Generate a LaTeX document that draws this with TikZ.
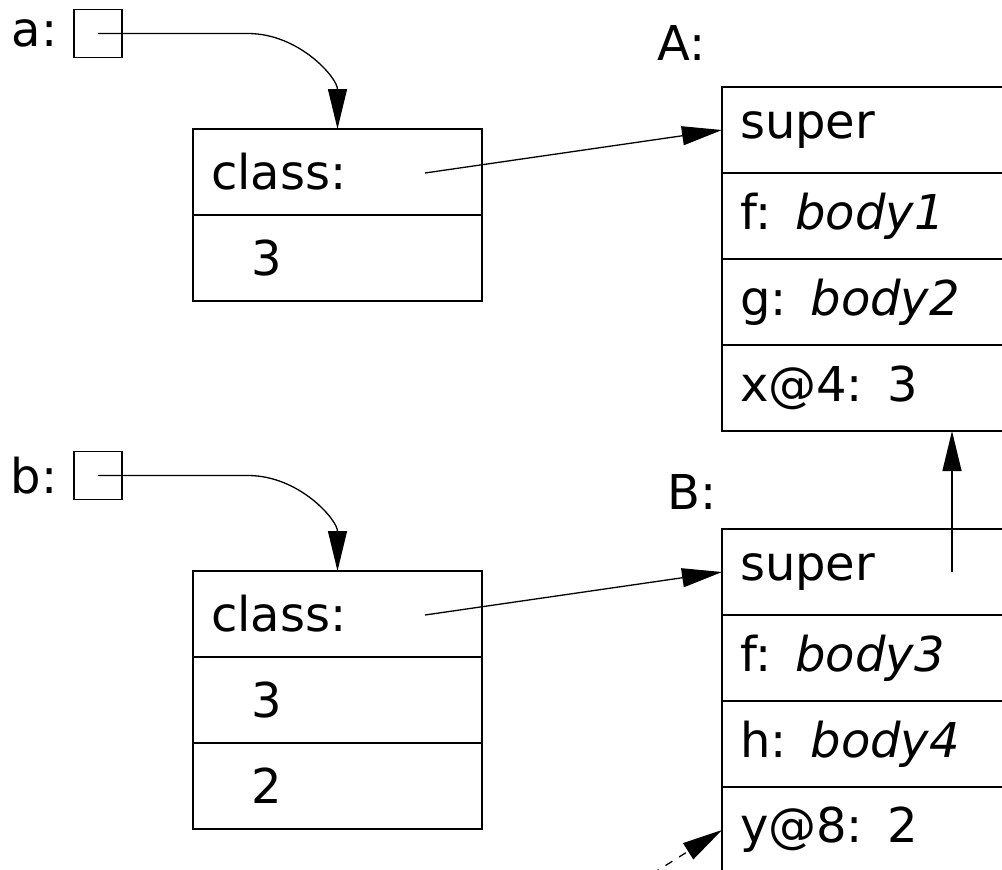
\documentclass[tikz,border=0pt]{standalone}
\usepackage{fontspec}
\setmainfont{DejaVu Sans}
\usepackage{tikz}
\usetikzlibrary{positioning,arrows.meta}

\begin{document}
\begin{tikzpicture}[x=0.5pt, y=-0.5pt, line width=0.65pt,
    every node/.style={font=\fontsize{24}{28}\selectfont},
    >={Triangle[length=20pt, width=9.5pt]},
    cell/.style={draw, anchor=north west, outer sep=0pt, inner xsep=9pt, inner ysep=0pt,
                 minimum height=43pt, align=left},
    objcell/.style={cell, text width=126.5pt},
    clscell/.style={cell, text width=132pt},
    refbox/.style={draw, outer sep=0pt, minimum size=24pt, inner sep=0pt},
    lbl/.style={inner sep=0pt}]
   % Frame of the picture (crops the class boxes on the right)
   \useasboundingbox (0,0) rectangle (1002,869);

    % Variables
    \node[refbox] (pa) at (98,33.5) {};
    \node[lbl, left=8pt of pa] (la) {a:};
    \node[refbox] (pb) at (98,475.5) {};
    \node[lbl, left=8pt of pb] (lb) {b:};

    % Object of a
    \node[objcell] (oa1) at (193,129) {class:};
    \node[objcell, below=0pt of oa1] (oa2) {\hspace*{20pt}3};

    % Object of b
    \node[objcell] (ob1) at (193,571) {class:};
    \node[objcell, below=0pt of ob1] (ob2) {\hspace*{20pt}3};
    \node[objcell, below=0pt of ob2] (ob3) {\hspace*{20pt}2};

    % Class A
    \node[clscell] (A1) at (722,87) {super};
    \node[clscell, below=0pt of A1] (A2) {f: \textit{body1}};
    \node[clscell, below=0pt of A2] (A3) {g: \textit{body2}};
    \node[clscell, below=0pt of A3] (A4) {x@4: 3};
    \node[lbl, above left=13pt and 8pt of A1.north west] (lA) {A:};

    % Class B
    \node[clscell] (B1) at (722,529) {super};
    \node[clscell, below=0pt of B1] (B2) {f: \textit{body3}};
    \node[clscell, below=0pt of B2] (B3) {h: \textit{body4}};
    \node[clscell, below=0pt of B3] (B4) {y@8: 2};
    \node[lbl, above left=9.5pt and 2.5pt of B1.north west] (lB) {B:};

    % Pointers
    \coordinate (ca) at (425,173);
    \coordinate (cb) at (425,615);
    \coordinate (sb) at (952,572);
    \coordinate (yb) at (652,874);
    \draw[->] (pa.center) -- ++(150,0) to[out=0, in=90] (oa1.north);
    \draw[->] (pb.center) -- ++(150,0) to[out=0, in=90] (ob1.north);
    \draw[->] (ca) -- (A1.west);
    \draw[->] (cb) -- (B1.west);
    \draw[->] (sb) -- (sb |- A4.south);
    \draw[->, dash pattern=on 4pt off 4pt] (yb) -- (B4.west);
\end{tikzpicture}
\end{document}
